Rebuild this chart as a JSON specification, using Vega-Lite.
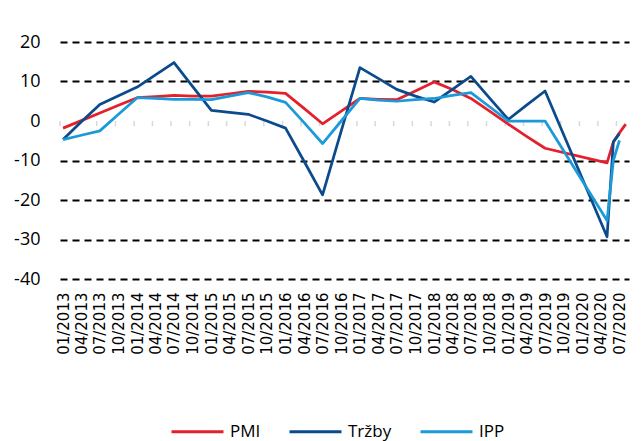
{
  "$schema": "https://vega.github.io/schema/vega-lite/v6.json",
  "width": 569,
  "height": 237,
  "autosize": {"type": "none"},
  "padding": {"left": 60, "top": 42, "right": 14, "bottom": 162},
  "background": "#ffffff",
  "config": {
    "view": {"stroke": null},
    "axis": {"domain": false, "ticks": false, "grid": false, "title": null}
  },
  "resolve": {"axis": {"x": "independent", "y": "independent"}},
  "datasets": {
    "ticks": [
      {"date": "2013-01-01"}, {"date": "2013-04-01"}, {"date": "2013-07-01"}, {"date": "2013-10-01"},
      {"date": "2014-01-01"}, {"date": "2014-04-01"}, {"date": "2014-07-01"}, {"date": "2014-10-01"},
      {"date": "2015-01-01"}, {"date": "2015-04-01"}, {"date": "2015-07-01"}, {"date": "2015-10-01"},
      {"date": "2016-01-01"}, {"date": "2016-04-01"}, {"date": "2016-07-01"}, {"date": "2016-10-01"},
      {"date": "2017-01-01"}, {"date": "2017-04-01"}, {"date": "2017-07-01"}, {"date": "2017-10-01"},
      {"date": "2018-01-01"}, {"date": "2018-04-01"}, {"date": "2018-07-01"}, {"date": "2018-10-01"},
      {"date": "2019-01-01"}, {"date": "2019-04-01"}, {"date": "2019-07-01"}, {"date": "2019-10-01"},
      {"date": "2020-01-01"}, {"date": "2020-04-01"}, {"date": "2020-07-01"}
    ],
    "series": [
      {"date": "2013-01-16", "series": "PMI", "value": -1.8},
      {"date": "2013-04-16", "series": "PMI", "value": 0.1},
      {"date": "2013-07-16", "series": "PMI", "value": 2.0},
      {"date": "2013-10-16", "series": "PMI", "value": 4.0},
      {"date": "2014-01-16", "series": "PMI", "value": 5.9},
      {"date": "2014-04-16", "series": "PMI", "value": 6.2},
      {"date": "2014-07-16", "series": "PMI", "value": 6.5},
      {"date": "2014-10-16", "series": "PMI", "value": 6.3},
      {"date": "2015-01-16", "series": "PMI", "value": 6.3},
      {"date": "2015-04-16", "series": "PMI", "value": 6.9},
      {"date": "2015-07-16", "series": "PMI", "value": 7.5},
      {"date": "2015-10-16", "series": "PMI", "value": 7.3},
      {"date": "2016-01-16", "series": "PMI", "value": 7.0},
      {"date": "2016-04-16", "series": "PMI", "value": 3.2},
      {"date": "2016-07-16", "series": "PMI", "value": -0.7},
      {"date": "2016-10-16", "series": "PMI", "value": 2.5},
      {"date": "2017-01-16", "series": "PMI", "value": 5.7},
      {"date": "2017-04-16", "series": "PMI", "value": 5.5},
      {"date": "2017-07-16", "series": "PMI", "value": 5.4},
      {"date": "2017-10-16", "series": "PMI", "value": 7.6},
      {"date": "2018-01-16", "series": "PMI", "value": 9.9},
      {"date": "2018-04-16", "series": "PMI", "value": 8.0},
      {"date": "2018-07-16", "series": "PMI", "value": 5.7},
      {"date": "2018-10-16", "series": "PMI", "value": 2.5},
      {"date": "2019-01-16", "series": "PMI", "value": -0.8},
      {"date": "2019-04-16", "series": "PMI", "value": -3.9},
      {"date": "2019-07-16", "series": "PMI", "value": -6.9},
      {"date": "2020-05-16", "series": "PMI", "value": -10.6},
      {"date": "2020-06-16", "series": "PMI", "value": -5.3},
      {"date": "2020-07-16", "series": "PMI", "value": -3.0},
      {"date": "2020-08-16", "series": "PMI", "value": -0.8},
      {"date": "2013-01-16", "series": "Tržby", "value": -4.7},
      {"date": "2013-04-16", "series": "Tržby", "value": -0.2},
      {"date": "2013-07-16", "series": "Tržby", "value": 4.2},
      {"date": "2013-10-16", "series": "Tržby", "value": 6.4},
      {"date": "2014-01-16", "series": "Tržby", "value": 8.6},
      {"date": "2014-04-16", "series": "Tržby", "value": 11.7},
      {"date": "2014-07-16", "series": "Tržby", "value": 14.8},
      {"date": "2014-10-16", "series": "Tržby", "value": 8.7},
      {"date": "2015-01-16", "series": "Tržby", "value": 2.7},
      {"date": "2015-04-16", "series": "Tržby", "value": 2.2},
      {"date": "2015-07-16", "series": "Tržby", "value": 1.7},
      {"date": "2015-10-16", "series": "Tržby", "value": 0.0},
      {"date": "2016-01-16", "series": "Tržby", "value": -1.8},
      {"date": "2016-04-16", "series": "Tržby", "value": -10.2},
      {"date": "2016-07-16", "series": "Tržby", "value": -18.7},
      {"date": "2016-10-16", "series": "Tržby", "value": -2.5},
      {"date": "2017-01-16", "series": "Tržby", "value": 13.5},
      {"date": "2017-04-16", "series": "Tržby", "value": 10.8},
      {"date": "2017-07-16", "series": "Tržby", "value": 8.0},
      {"date": "2017-10-16", "series": "Tržby", "value": 6.3},
      {"date": "2018-01-16", "series": "Tržby", "value": 4.8},
      {"date": "2018-04-16", "series": "Tržby", "value": 8.0},
      {"date": "2018-07-16", "series": "Tržby", "value": 11.3},
      {"date": "2018-10-16", "series": "Tržby", "value": 5.8},
      {"date": "2019-01-16", "series": "Tržby", "value": 0.4},
      {"date": "2019-04-16", "series": "Tržby", "value": 4.0},
      {"date": "2019-07-16", "series": "Tržby", "value": 7.6},
      {"date": "2020-05-16", "series": "Tržby", "value": -29.3},
      {"date": "2020-06-16", "series": "Tržby", "value": -5.3},
      {"date": "2020-07-16", "series": "Tržby", "value": -3.2},
      {"date": "2013-01-16", "series": "IPP", "value": -4.7},
      {"date": "2013-04-16", "series": "IPP", "value": -3.6},
      {"date": "2013-07-16", "series": "IPP", "value": -2.5},
      {"date": "2013-10-16", "series": "IPP", "value": 1.7},
      {"date": "2014-01-16", "series": "IPP", "value": 5.9},
      {"date": "2014-04-16", "series": "IPP", "value": 5.7},
      {"date": "2014-07-16", "series": "IPP", "value": 5.5},
      {"date": "2014-10-16", "series": "IPP", "value": 5.5},
      {"date": "2015-01-16", "series": "IPP", "value": 5.4},
      {"date": "2015-04-16", "series": "IPP", "value": 6.3},
      {"date": "2015-07-16", "series": "IPP", "value": 7.2},
      {"date": "2015-10-16", "series": "IPP", "value": 6.1},
      {"date": "2016-01-16", "series": "IPP", "value": 4.7},
      {"date": "2016-04-16", "series": "IPP", "value": -0.4},
      {"date": "2016-07-16", "series": "IPP", "value": -5.7},
      {"date": "2016-10-16", "series": "IPP", "value": 0.0},
      {"date": "2017-01-16", "series": "IPP", "value": 5.7},
      {"date": "2017-04-16", "series": "IPP", "value": 5.3},
      {"date": "2017-07-16", "series": "IPP", "value": 5.0},
      {"date": "2017-10-16", "series": "IPP", "value": 5.4},
      {"date": "2018-01-16", "series": "IPP", "value": 5.7},
      {"date": "2018-04-16", "series": "IPP", "value": 6.5},
      {"date": "2018-07-16", "series": "IPP", "value": 7.2},
      {"date": "2018-10-16", "series": "IPP", "value": 3.6},
      {"date": "2019-01-16", "series": "IPP", "value": 0.0},
      {"date": "2019-04-16", "series": "IPP", "value": 0.0},
      {"date": "2019-07-16", "series": "IPP", "value": 0.0},
      {"date": "2020-05-16", "series": "IPP", "value": -25.2},
      {"date": "2020-06-16", "series": "IPP", "value": -10.0},
      {"date": "2020-07-16", "series": "IPP", "value": -4.9}
    ]
  },
  "layer": [
    {
      "mark": {"type": "rule", "color": "#d9d9d9", "strokeWidth": 2},
      "encoding": {"y": {"datum": 0, "type": "quantitative", "axis": null}}
    },
    {
      "data": {"name": "ticks"},
      "mark": {"type": "rule", "color": "#d9d9d9", "strokeWidth": 1.5},
      "encoding": {
        "x": {"field": "date", "type": "temporal", "axis": null},
        "y": {"datum": 0, "type": "quantitative", "axis": null},
        "y2": {"datum": -1.3}
      }
    },
    {
      "data": {"name": "series"},
      "mark": {"type": "line", "strokeWidth": 2.75, "strokeJoin": "round"},
      "encoding": {
        "x": {
          "field": "date", "type": "temporal",
          "scale": {"type": "utc", "domain": [{"year": 2013, "month": 1, "date": 1, "utc": true}, {"year": 2020, "month": 9, "date": 1, "utc": true}]},
          "axis": {
            "orient": "bottom",
            "labelExpr": "utcFormat(datum.value, '%m/%Y')",
            "tickCount": {"interval": "month", "step": 3},
            "labelAngle": 270, "labelAlign": "right", "labelBaseline": "middle",
            "labelFont": "DejaVu Sans", "labelFontSize": 15, "labelColor": "#000000",
            "labelPadding": 13, "labelOffset": 3, "labelOverlap": false, "labelFlush": false, "labelBound": false,
            "title": null, "grid": false, "ticks": false, "domain": false
          }
        },
        "y": {
          "field": "value", "type": "quantitative",
          "scale": {"domain": [-40, 20], "nice": false, "zero": false},
          "axis": {
            "orient": "left",
            "values": [-40, -30, -20, -10, 0, 10, 20],
            "labelExpr": "datum.value + ''",
            "labelOverlap": false,
            "grid": true, "gridColor": "#000000", "gridWidth": 2, "gridDash": [7, 5],
            "gridOpacity": {"condition": {"test": "datum.value === 0", "value": 0}, "value": 1},
            "labelFont": "Open Sans", "labelFontSize": 18, "labelColor": "#000000", "labelPadding": 20,
            "ticks": false, "domain": false, "title": null
          }
        },
        "color": {
          "field": "series", "type": "nominal",
          "scale": {"domain": ["PMI", "Tržby", "IPP"], "range": ["#e3202b", "#0b4b8c", "#1a9ad8"]},
          "legend": {
            "orient": "none", "legendX": 110, "legendY": 362, "direction": "horizontal", "title": null,
            "symbolType": "stroke", "symbolSize": 2704, "symbolStrokeWidth": 3,
            "labelFont": "Open Sans", "labelFontSize": 17, "labelColor": "#000000",
            "labelOffset": 5, "columnPadding": 22
          }
        }
      }
    }
  ]
}
